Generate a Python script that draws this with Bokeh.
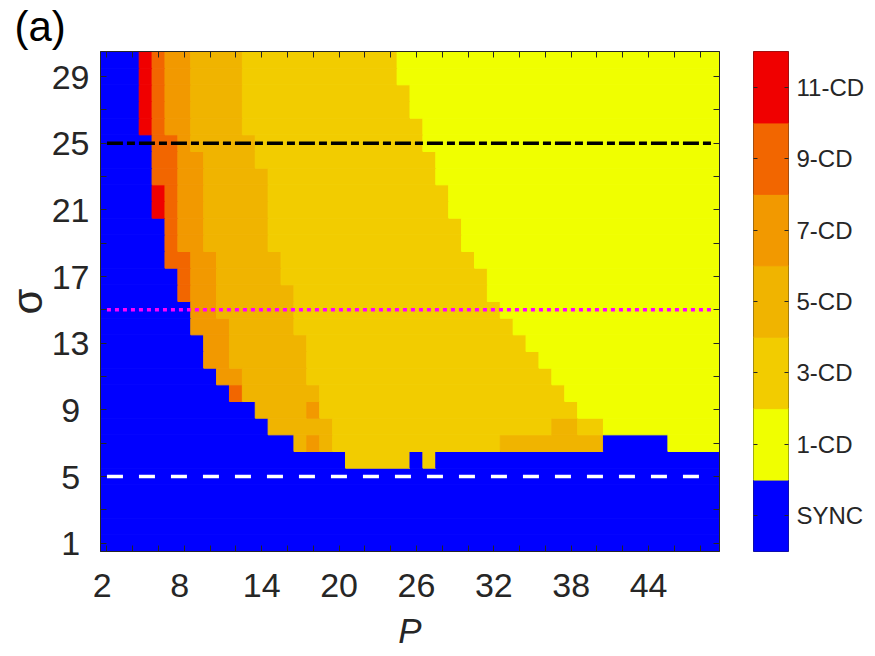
from bokeh.plotting import figure
from bokeh.models import (Range1d, FixedTicker, LinearAxis, ColumnDataSource,
                          CustomJSTickFormatter, Title)
from bokeh.layouts import row
from bokeh.embed import file_html
from bokeh.resources import INLINE

# ---------------- data ----------------
P_VALUES = list(range(2, 50))          # 48 columns, P = 2 .. 49
SIGMA_VALUES = list(range(1, 31))      # 30 rows, sigma = 1 .. 30

LEVEL_LABELS = ["SYNC", "1-CD", "3-CD", "5-CD", "7-CD", "9-CD", "11-CD"]
LEVEL_COLORS = ["#0000FF", "#F0FF00", "#F2CC00", "#F0B400", "#F29900", "#F26600", "#F00000"]

# each row: runs of (level index, number of consecutive P columns), starting at P = 2
ROW_RUNS = {
    30: [(0, 3), (6, 1), (5, 1), (4, 2), (3, 4), (2, 12), (1, 25)],
    29: [(0, 3), (6, 1), (5, 1), (4, 2), (3, 4), (2, 12), (1, 25)],
    28: [(0, 3), (6, 1), (5, 1), (4, 2), (3, 4), (2, 13), (1, 24)],
    27: [(0, 3), (6, 1), (5, 1), (4, 2), (3, 4), (2, 13), (1, 24)],
    26: [(0, 3), (6, 1), (5, 1), (4, 2), (3, 4), (2, 14), (1, 23)],
    25: [(0, 4), (5, 2), (4, 1), (3, 5), (2, 13), (1, 23)],
    24: [(0, 4), (5, 2), (4, 2), (3, 4), (2, 14), (1, 22)],
    23: [(0, 4), (5, 2), (4, 2), (3, 5), (2, 13), (1, 22)],
    22: [(0, 4), (6, 1), (5, 1), (4, 2), (3, 5), (2, 14), (1, 21)],
    21: [(0, 4), (6, 1), (5, 1), (4, 2), (3, 5), (2, 14), (1, 21)],
    20: [(0, 5), (5, 1), (4, 2), (3, 5), (2, 15), (1, 20)],
    19: [(0, 5), (5, 1), (4, 2), (3, 5), (2, 15), (1, 20)],
    18: [(0, 5), (5, 2), (4, 2), (3, 5), (2, 15), (1, 19)],
    17: [(0, 6), (5, 1), (4, 2), (3, 5), (2, 16), (1, 18)],
    16: [(0, 6), (5, 1), (4, 2), (3, 6), (2, 15), (1, 18)],
    15: [(0, 7), (4, 2), (3, 6), (2, 16), (1, 17)],
    14: [(0, 7), (4, 3), (3, 5), (2, 17), (1, 16)],
    13: [(0, 8), (4, 2), (3, 6), (2, 17), (1, 15)],
    12: [(0, 8), (4, 2), (3, 6), (2, 18), (1, 14)],
    11: [(0, 9), (4, 2), (3, 5), (2, 19), (1, 13)],
    10: [(0, 10), (5, 1), (3, 6), (2, 19), (1, 12)],
    9:  [(0, 12), (3, 4), (4, 1), (2, 20), (1, 11)],
    8:  [(0, 13), (3, 5), (2, 17), (3, 2), (2, 2), (1, 9)],
    7:  [(0, 15), (3, 1), (4, 1), (3, 1), (2, 13), (3, 8), (0, 5), (1, 4)],
    6:  [(0, 19), (2, 5), (0, 1), (2, 1), (0, 22)],
    5:  [(0, 48)],
    4:  [(0, 48)],
    3:  [(0, 48)],
    2:  [(0, 48)],
    1:  [(0, 48)],
}

REF_LINE_SIGMAS = [25, 15, 5]
REF_LINE_COLORS = ["#000000", "#FF00FF", "#FFFFFF"]
REF_LINE_DASHES = ["16 4 8 4", "4 4", "16 16"]

X_TICKS = list(range(2, 49, 2))
X_TICK_LABELS = [2, 8, 14, 20, 26, 32, 38, 44]
Y_TICKS = list(range(1, 30, 2))
Y_TICK_LABELS = [1, 5, 9, 13, 17, 21, 25, 29]

FONT = "Liberation Sans"
INK = "#262626"

# ---------------- main heat map ----------------
p = figure(width=733, height=656,
           x_range=Range1d(P_VALUES[0] - 0.5, P_VALUES[-1] + 0.5),
           y_range=Range1d(SIGMA_VALUES[0] - 0.5, SIGMA_VALUES[-1] + 0.5),
           output_backend="svg", toolbar_location=None,
           min_border_left=96, min_border_right=14, min_border_top=51, min_border_bottom=98)
p.xgrid.visible = False
p.ygrid.visible = False
p.outline_line_color = INK
p.outline_line_width = 1
p.background_fill_color = "white"
p.border_fill_color = "white"

left, right, bottom, top, color = [], [], [], [], []
for s in SIGMA_VALUES:
    col = 0
    for lvl, n in ROW_RUNS[s]:
        left.append(P_VALUES[col] - 0.5)
        right.append(P_VALUES[col + n - 1] + 0.5)
        bottom.append(s - 0.5)
        top.append(s + 0.5)
        color.append(LEVEL_COLORS[lvl])
        col += n
src = ColumnDataSource(dict(left=left, right=right, bottom=bottom, top=top, color=color))
p.quad(left="left", right="right", bottom="bottom", top="top", source=src,
       fill_color="color", line_color="color", line_width=1)

for sig, c, d in zip(REF_LINE_SIGMAS, REF_LINE_COLORS, REF_LINE_DASHES):
    p.line(x=[P_VALUES[0], P_VALUES[-1]], y=[sig, sig], line_color=c, line_width=3.5,
           line_dash=d, line_cap="butt")


def style_axis(ax, size="34px"):
    ax.axis_line_color = INK
    ax.axis_line_width = 1
    ax.major_tick_line_color = INK
    ax.major_tick_in = 6
    ax.major_tick_out = 0
    ax.minor_tick_line_color = None
    ax.major_label_text_font = FONT
    ax.major_label_text_font_size = size
    ax.major_label_text_color = INK


NBSP = "\u00a0"
xa = p.xaxis[0]
xa.ticker = FixedTicker(ticks=X_TICKS)
xo = {t: "" for t in X_TICKS}
for t in X_TICK_LABELS:
    xo[t] = f"{t}{NBSP}" if t < 10 else str(t)
xa.major_label_overrides = xo
style_axis(xa)
xa.major_label_standoff = 14
xa.axis_label = "P"
xa.axis_label_text_font = FONT
xa.axis_label_text_font_style = "italic"
xa.axis_label_text_font_size = "35px"
xa.axis_label_text_color = INK
xa.axis_label_standoff = 4

ya = p.yaxis[0]
ya.ticker = FixedTicker(ticks=Y_TICKS)
yo = {t: "" for t in Y_TICKS}
for t in Y_TICK_LABELS:
    yo[t] = f"{t}{NBSP}" if t < 10 else str(t)
ya.major_label_overrides = yo
style_axis(ya)
ya.major_label_standoff = 11
ya.axis_label = "σ"
ya.axis_label_text_font = FONT
ya.axis_label_text_font_style = "normal"
ya.axis_label_text_font_size = "42px"
ya.axis_label_text_color = INK
ya.axis_label_standoff = -2

empty = CustomJSTickFormatter(code="return ''")
top_ax = LinearAxis(ticker=FixedTicker(ticks=X_TICKS), formatter=empty)
style_axis(top_ax, "0px")
top_ax.major_label_standoff = 0
p.add_layout(top_ax, "above")
right_ax = LinearAxis(ticker=FixedTicker(ticks=Y_TICKS), formatter=empty)
style_axis(right_ax, "0px")
right_ax.major_label_standoff = 0
p.add_layout(right_ax, "right")

p.title = Title(text="(a)", align="left", offset=-86, vertical_align="top", standoff=0,
                text_font=FONT, text_font_size="42px", text_font_style="normal",
                text_color="black")
p.title_location = "above"

# ---------------- colour bar ----------------
n_lev = len(LEVEL_LABELS)
cb = figure(width=134, height=656, x_range=Range1d(0, 1), y_range=Range1d(0, n_lev),
            output_backend="svg", toolbar_location=None, x_axis_type=None, y_axis_type=None,
            min_border_left=20, min_border_right=79, min_border_top=51, min_border_bottom=105)
cb.outline_line_color = INK
cb.outline_line_width = 1
cb.background_fill_color = "white"
cb.border_fill_color = "white"
lev_idx = list(range(n_lev))
cb_src = ColumnDataSource(dict(bottom=lev_idx, top=[i + 1 for i in lev_idx], color=LEVEL_COLORS))
cb.quad(left=0, right=1, bottom="bottom", top="top", source=cb_src,
        fill_color="color", line_color="color", line_width=1)

cb_ticks = [i + 0.5 for i in lev_idx]
cb_right = LinearAxis(ticker=FixedTicker(ticks=cb_ticks),
                      major_label_overrides={i + 0.5: LEVEL_LABELS[i] for i in lev_idx})
style_axis(cb_right, "24px")
cb_right.major_tick_in = 4
cb_right.axis_line_color = None
cb_right.major_label_standoff = 8
cb.add_layout(cb_right, "right")
cb_left = LinearAxis(ticker=FixedTicker(ticks=cb_ticks), formatter=empty)
style_axis(cb_left, "0px")
cb_left.major_tick_in = 4
cb_left.major_label_standoff = 0
cb_left.axis_line_color = None
cb.add_layout(cb_left, "left")

layout = row(p, cb)
open("out.html", "w").write(file_html(layout, INLINE))
